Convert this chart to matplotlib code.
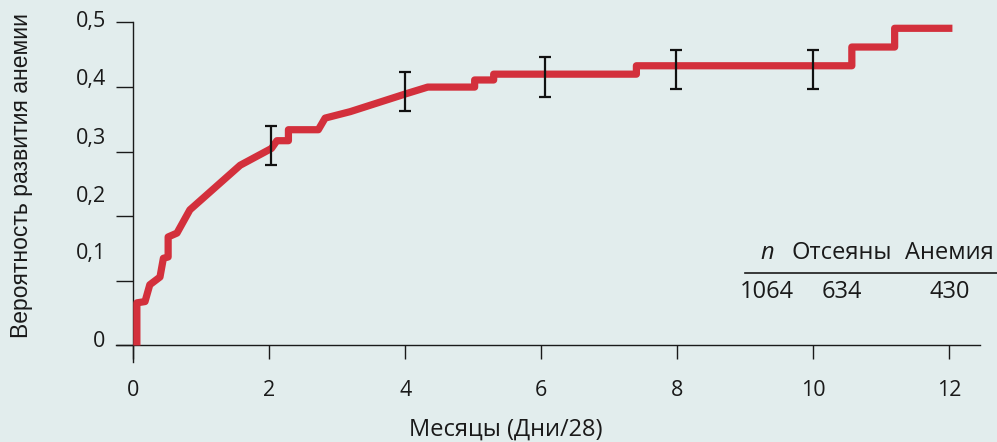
import matplotlib
matplotlib.use("Agg")
import matplotlib.pyplot as plt

plt.rcParams['font.family'] = ['Open Sans', 'DejaVu Sans']

# curve vertices (months, probability)
months = [0.05, 0.05, 0.17, 0.24, 0.39, 0.44, 0.51, 0.51, 0.64, 0.83, 1.57,
          2.03, 2.11, 2.28, 2.28, 2.72, 2.82, 3.19, 4.02, 4.33, 5.02, 5.02,
          5.30, 5.30, 7.40, 7.40, 10.57, 10.57, 11.20, 11.20, 12.05]
prob = [0.0, 0.066, 0.068, 0.094, 0.106, 0.135, 0.137, 0.168, 0.174, 0.210, 0.279,
        0.305, 0.317, 0.317, 0.334, 0.334, 0.352, 0.362, 0.390, 0.400, 0.400, 0.411,
        0.411, 0.420, 0.420, 0.433, 0.433, 0.462, 0.462, 0.491, 0.491]

# confidence intervals
ci_x = [2.02, 4.0, 6.05, 7.98, 10.0]
ci_low = [0.280, 0.363, 0.384, 0.397, 0.397]
ci_high = [0.340, 0.424, 0.446, 0.457, 0.457]

xticks = [0, 2, 4, 6, 8, 10, 12]
yticks = [0, 0.1, 0.2, 0.3, 0.4, 0.5]
# the labels in the original sit a bit off their ticks
ylabel_pos = [0.0098, 0.1466, 0.234, 0.325, 0.4156, 0.5057]
ylabel_txt = ['0', '0,1', '0,2', '0,3', '0,4', '0,5']

tbl_head = ['n', 'Отсеяны', 'Анемия']
tbl_vals = ['1064', '634', '430']
tbl_x = [9.32, 10.42, 12.01]

bg = '#e2eded'
red = '#d3303c'

fig = plt.figure(figsize=(9.97, 4.42), dpi=100, facecolor=bg)
ax = fig.add_axes([0, 0, 1, 1], facecolor=bg)
ax.set_xlim(-1.964, 12.706)
ax.set_ylim(-0.1494, 0.5348)

ax.plot(months, prob, color=red, lw=5.2, solid_joinstyle='round', solid_capstyle='butt', zorder=3)

mid = [(a + b) / 2 for a, b in zip(ci_low, ci_high)]
half = [(b - a) / 2 for a, b in zip(ci_low, ci_high)]
ax.errorbar(ci_x, mid, yerr=half, fmt='none', ecolor='#111111', elinewidth=1.6,
            capsize=4.5, capthick=1.6, zorder=4)

for s in ['top', 'right']:
    ax.spines[s].set_visible(False)
ax.spines['left'].set_position(('data', 0))
ax.spines['left'].set_bounds(-0.0255, 0.5)
ax.spines['bottom'].set_position(('data', 0))
ax.spines['bottom'].set_bounds(-0.26, 12.46)
for s in ['left', 'bottom']:
    ax.spines[s].set_color('#1a1a1a')
    ax.spines[s].set_linewidth(1.0)

ax.set_xticks(xticks)
ax.set_xticklabels([str(t) for t in xticks], fontsize=15.5)
ax.tick_params(axis='x', direction='out', length=10, width=1, pad=15, colors='#1a1a1a')

ax.set_yticks(ylabel_pos)
ax.set_yticklabels(ylabel_txt, fontsize=15.5)
ax.set_yticks(yticks, minor=True)
ax.tick_params(axis='y', which='major', length=0, pad=20, colors='#1a1a1a')
ax.tick_params(axis='y', which='minor', direction='out', length=12.2, width=1, color='#1a1a1a')

ax.set_xlabel('Месяцы (Дни/28)', fontsize=17, color='#1a1a1a')
ax.xaxis.set_label_coords(506 / 997, 1 - 418 / 442)
ax.set_ylabel('Вероятность развития анемии', fontsize=16.5, color='#1a1a1a',
              family=['Liberation Sans', 'DejaVu Sans'])
ax.yaxis.set_label_coords(33 / 997, 1 - 176 / 442)

# small table at the lower right
for i in range(3):
    ax.text(tbl_x[i], 0.1334, tbl_head[i], fontsize=17, ha='center', va='baseline',
            style='italic' if i == 0 else 'normal', color='#1a1a1a')
    ax.text(tbl_x[i], 0.074, tbl_vals[i], fontsize=17, ha='center', va='baseline', color='#1a1a1a')
ax.plot([9.0, 12.706], [0.112, 0.112], color='#1a1a1a', lw=1.2, clip_on=False)

fig.savefig('out.png', dpi=100, facecolor=bg)
